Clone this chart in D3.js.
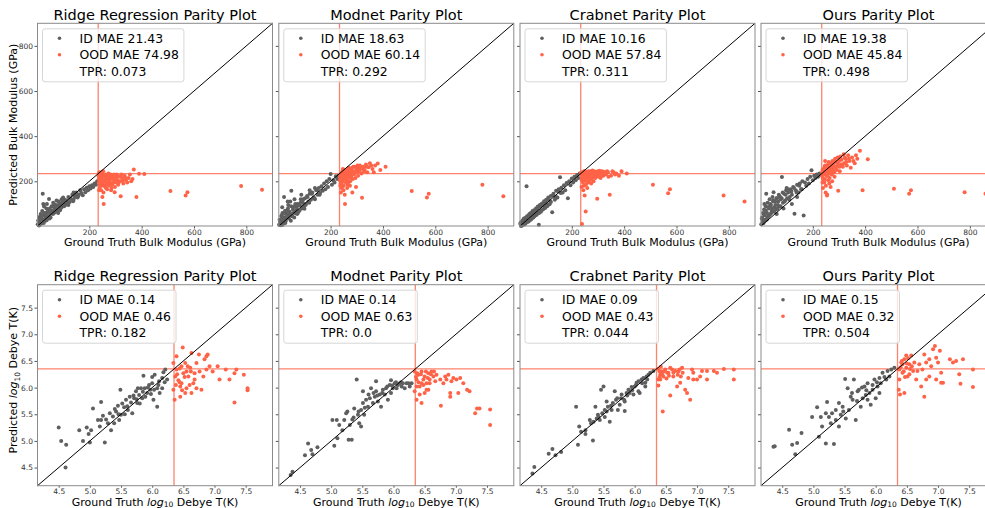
<!DOCTYPE html>
<html>
<head>
<meta charset="utf-8">
<script src="https://cdn.jsdelivr.net/npm/d3@7"></script>
<style>
  body { margin: 0; background: #fff; }
  text { font-family: "DejaVu Sans", sans-serif; }
</style>
</head>
<body>
<div id="chart"></div>
<script>
// ---- labels / metrics ----
var models = ["Ridge Regression", "Modnet", "Crabnet", "Ours"];
var bulkIdMae = ["21.43", "18.63", "10.16", "19.38"];
var bulkOodMae = ["74.98", "60.14", "57.84", "45.84"];
var bulkTpr = ["0.073", "0.292", "0.311", "0.498"];
var debyeIdMae = ["0.14", "0.14", "0.09", "0.15"];
var debyeOodMae = ["0.46", "0.63", "0.43", "0.32"];
var debyeTpr = ["0.182", "0.0", "0.044", "0.504"];

var bulkTicks = [200, 400, 600, 800];
var debyeTicks = [4.5, 5.0, 5.5, 6.0, 6.5, 7.0, 7.5];
var bulkThreshold = 234;
var debyeThreshold = 6.35;

// ---- bulk modulus: ground truth (shared test set) ----
var bulkIdTrue = [3,6,8,10,12,14,16,18,20,22,25,27,30,32,35,38,40,43,46,50,53,56,60,63,66,70,74,78,82,86,90,94,98,102,106,110,
  115,120,125,130,135,140,145,150,155,160,165,170,175,180,185,190,195,200,205,210,215,220,225,230,15,24,36,48,62,75,88,100,120,140,
  5,9,13,17,21,26,29,33,37,41,45,49,52,57,61,65,68,72,77,81,85,92,96,104,112,118,128,138,148,158];
var bulkOodTrue = [236,238,240,241,243,245,246,248,250,252,253,255,257,258,260,262,264,265,267,270,272,275,277,280,282,285,288,290,
  292,295,298,300,303,305,308,310,315,318,320,325,330,335,340,345,350,360,370,380,390,410,239,244,249,254,259,263,268,274,283,297,
  510,568,575,780,860,235,237,242,247,251,256,261,266,269,273,276,279,284,287,294,302,306,312,322,328,338,355,365,237,247];

// ---- bulk modulus: predictions per model ----
var ridgeBulkId = [10,28,4,42,18,55,12,36,68,145,30,88,48,25,60,100,42,75,122,55,62,90,70,58,98,80,68,92,110,84,100,120,88,105,118,96,
  112,130,108,122,140,118,130,150,128,142,160,148,138,165,152,172,160,178,168,182,175,190,185,200,40,100,80,35,105,115,72,128,95,150,
  25,8,35,22,50,15,60,40,28,65,48,80,40,70,55,85,62,95,75,60,98,82,108,90,115,100,125,112,140,135];
var modnetBulkId = [8,20,30,5,45,18,60,25,35,130,40,15,55,70,38,95,50,65,110,158,45,75,62,90,58,85,100,70,95,120,80,105,90,125,100,135,
  110,145,118,150,128,120,160,140,170,148,178,158,190,165,200,175,210,232,185,205,195,222,210,225,85,60,110,25,120,60,140,78,160,170,
  30,15,50,8,40,70,25,55,80,35,60,90,50,85,40,100,70,55,95,70,105,85,120,95,130,105,145,125,160,140];
var crabnetBulkId = [12,2,20,4,25,8,28,10,35,12,40,178,20,45,22,55,28,60,35,68,40,72,48,80,52,88,8,95,65,102,75,112,82,118,90,128,
  98,135,63,145,118,158,128,165,218,172,150,182,160,192,125,200,182,212,195,220,205,228,215,235,30,15,50,40,68,60,95,110,108,130,
  18,10,6,35,15,32,45,25,48,50,32,58,62,45,72,55,80,62,90,72,95,100,85,98,122,110,138,125,155,148];
var oursBulkId = [10,40,25,60,15,75,50,30,90,145,60,105,45,80,120,55,95,70,130,152,85,110,75,125,95,140,88,120,219,105,145,115,160,125,
  150,118,165,140,175,56,160,185,150,190,165,200,48,195,180,210,190,220,249,205,225,215,230,220,235,230,100,30,90,110,55,130,80,170,100,130,
  35,15,55,25,70,40,85,50,100,60,80,115,65,95,125,80,110,135,90,125,150,110,140,165,130,155,170,150,180,165];

var ridgeBulkOod = [210,240,185,225,200,160,235,215,130,195,245,100,220,180,205,230,170,210,190,225,200,180,215,195,230,170,210,190,
  220,200,175,215,195,230,205,185,220,200,134,215,190,225,205,195,215,200,252,130,233,232,170,205,190,150,200,185,165,205,160,152,
  157,137,152,179,163,225,195,215,180,230,205,175,220,200,235,190,210,225,185,230,205,220,195,230,205,215,230,210,160,240];
var modnetBulkOod = [220,190,235,170,210,245,200,225,180,240,215,100,230,195,250,210,235,185,245,220,255,200,240,225,260,210,245,230,
  265,215,250,240,270,225,255,245,260,235,127,265,250,275,240,262,280,255,270,279,250,264,150,175,160,140,205,170,195,180,150,175,
  157,128,145,185,134,205,230,190,240,215,250,225,200,260,235,215,255,235,265,240,260,250,270,255,245,265,270,240,180,255];
var crabnetBulkOod = [230,205,240,215,195,235,180,225,245,210,66,235,220,240,200,230,245,215,235,225,245,210,235,240,220,245,230,215,
  240,235,225,245,220,240,230,215,245,235,225,240,230,245,220,140,225,240,235,225,245,235,11,160,137,185,170,195,205,190,200,123,
  185,147,165,137,111,238,215,230,245,225,240,220,238,210,240,228,248,232,218,242,230,247,225,242,232,240,245,230,175,200];
var oursBulkOod = [240,215,255,200,230,265,210,245,180,260,225,140,250,275,235,260,215,280,245,265,230,290,255,270,240,300,260,285,
  250,305,270,290,245,310,275,295,265,320,280,300,270,315,290,260,305,280,300,335,160,298,170,195,150,137,205,190,175,200,220,158,
  167,145,160,152,145,225,250,235,270,245,225,285,250,235,280,260,245,285,265,280,265,300,275,305,285,300,290,315,195,290];

// ---- debye temperature: [ground truth, prediction] per model ----
var ridgeDebyeId = [[4.50,5.25],[4.54,5.00],[4.62,4.93],[4.61,4.50],[4.83,5.20],[4.89,5.00],[4.95,5.25],[4.98,5.13],[5.00,4.97],
  [5.05,5.61],[5.13,5.39],[5.16,5.27],[5.18,5.73],[5.24,4.97],[5.21,5.47],[5.29,5.33],[5.32,5.52],[5.34,5.20],[5.39,5.33],[5.45,5.66],
  [5.42,5.55],[5.47,5.39],[5.50,5.49],[5.49,5.96],[5.55,5.63],[5.58,5.77],[5.61,5.58],[5.66,5.72],[5.68,5.52],[5.71,5.80],[5.74,5.93],
  [5.76,5.71],[5.79,5.86],[5.82,5.99],[5.86,6.22],[5.84,5.80],[5.88,5.99],[5.92,5.90],[5.95,6.05],[5.97,5.96],[6.00,6.08],[6.02,5.77],
  [6.04,6.24],[6.08,5.99],[6.11,6.12],[6.12,5.90],[6.16,6.18],[6.18,6.29],[6.21,6.34],[6.08,5.64],[6.24,6.15],[5.18,5.39],[5.37,5.46],
  [5.64,5.83],[5.77,5.99],[5.89,5.83],[6.03,5.96],[6.16,5.99],[5.02,5.20],[5.40,5.60],[5.52,5.70],[5.60,5.65],[5.70,5.85],[5.75,5.78],
  [5.85,5.92],[5.93,6.00],[6.00,6.20],[5.26,5.40],[5.46,5.50],[5.56,5.50],[5.80,5.70],[5.98,5.88],[6.10,6.05],[6.20,6.10]];
var ridgeDebyeOod = [[6.49,6.75],[6.34,6.46],[6.39,6.34],[6.37,6.21],[6.34,5.96],[6.36,5.77],[6.45,5.83],[6.47,6.08],[6.50,6.27],
  [6.53,6.46],[6.55,5.99],[6.58,6.21],[6.61,6.37],[6.63,5.90],[6.66,6.08],[6.68,6.27],[6.71,6.46],[6.63,6.65],[6.76,6.30],[6.79,5.96],
  [6.75,6.62],[6.84,6.53],[6.87,6.34],[6.89,6.62],[6.92,6.40],[6.97,6.30],[7.05,6.40],[7.08,6.15],[7.18,6.34],[7.24,6.15],[7.32,6.27],
  [7.35,6.34],[7.32,5.72],[7.53,5.99],[7.53,5.95],[7.47,6.24],[6.45,6.02],[6.55,6.30],[6.42,6.14],[6.53,5.90],[6.71,5.99],[6.82,6.21],
  [6.47,6.40],[6.87,6.59],[6.39,6.59],[6.40,6.25],[6.44,6.10],[6.52,6.20],[6.48,5.95],[6.57,6.40],[6.60,6.05],[6.62,6.30],[6.38,6.05],
  [6.44,6.36],[6.68,6.15]];
var modnetDebyeId = [[4.35,4.36],[4.38,4.42],[4.58,4.73],[4.63,4.95],[4.68,4.83],[4.78,4.88],[4.70,4.75],[5.05,4.91],[5.02,5.39],
  [5.09,5.39],[5.10,5.05],[5.13,5.30],[5.18,5.20],[5.21,5.39],[5.24,5.52],[5.26,5.55],[5.28,5.02],[5.30,5.30],[5.33,5.02],[5.36,5.44],
  [5.37,5.61],[5.41,6.15],[5.43,5.49],[5.45,5.33],[5.48,5.58],[5.51,5.71],[5.51,5.93],[5.53,5.49],[5.56,5.77],[5.59,5.64],[5.60,5.87],
  [5.64,5.99],[5.67,5.71],[5.70,5.83],[5.72,5.93],[5.75,5.74],[5.78,5.87],[5.80,5.64],[5.83,5.96],[5.86,5.87],[5.88,5.99],[5.91,5.77],
  [5.94,6.05],[5.96,5.90],[5.99,5.99],[6.02,6.08],[6.05,5.99],[6.07,6.05],[6.10,6.08],[6.13,6.02],[6.15,6.08],[6.18,5.99],[6.21,6.08],
  [6.26,6.02],[6.29,6.08],[5.72,6.12],[5.96,6.14],[5.48,5.27],[5.62,5.80],[5.68,5.90],[5.74,5.85],[5.82,5.90],[5.90,6.02],[5.98,6.04],
  [6.04,6.10],[6.12,6.10],[6.24,6.08],[5.44,5.55],[5.54,5.62],[5.34,5.40]];
var modnetDebyeOod = [[6.34,6.30],[6.37,6.15],[6.40,6.24],[6.42,6.02],[6.45,6.30],[6.48,6.15],[6.50,6.21],[6.53,6.08],[6.56,6.27],
  [6.58,6.15],[6.61,6.30],[6.64,6.21],[6.34,5.93],[6.37,5.77],[6.42,5.87],[6.45,5.71],[6.50,5.90],[6.56,5.96],[6.58,6.08],[6.67,6.12],
  [6.69,6.24],[6.75,6.15],[6.80,6.08],[6.83,6.21],[6.85,6.15],[6.88,6.24],[6.93,6.12],[6.96,6.18],[7.01,6.15],[7.07,6.18],[6.37,6.02],
  [6.53,5.96],[6.65,6.30],[6.45,6.08],[6.76,5.66],[6.91,5.90],[6.91,5.83],[7.04,5.90],[7.12,6.08],[7.18,5.96],[7.22,5.93],[7.31,5.52],
  [7.34,5.61],[7.38,5.61],[7.55,5.59],[7.55,5.30],[6.36,6.20],[6.40,6.10],[6.44,6.25],[6.48,6.05],[6.52,6.30],[6.55,6.18],[6.60,6.25],
  [6.38,6.27]];
var crabnetDebyeId = [[4.39,4.51],[4.36,4.39],[4.62,4.76],[4.68,4.85],[4.73,4.73],[4.82,4.79],[5.09,4.93],[5.11,5.27],[5.14,5.17],
  [5.21,5.20],[5.21,5.13],[5.06,5.64],[5.33,5.01],[5.28,5.39],[5.30,5.33],[5.34,5.36],[5.37,5.64],[5.39,5.42],[5.41,5.49],[5.44,5.39],
  [5.46,5.96],[5.50,6.02],[5.48,5.52],[5.52,5.45],[5.55,5.55],[5.57,5.64],[5.60,5.36],[5.63,5.58],[5.65,5.71],[5.68,5.93],[5.70,5.77],
  [5.72,5.80],[5.76,5.68],[5.79,5.87],[5.83,5.77],[5.84,5.56],[5.87,5.90],[5.90,5.96],[5.92,5.90],[5.95,6.01],[5.98,5.87],[6.00,6.02],
  [6.03,6.09],[6.06,6.12],[6.08,5.90],[6.11,6.15],[6.14,6.18],[6.17,6.02],[6.19,6.21],[6.22,6.24],[6.25,6.28],[6.30,6.31],[5.84,5.74],
  [5.55,5.74],[5.73,5.58],[6.06,5.93],[6.17,6.09],[5.62,5.66],[5.78,5.80],[5.88,5.85],[5.96,5.95],[6.02,6.05],[6.12,6.08],[6.20,6.15],
  [5.42,5.45],[5.52,5.58]];
var crabnetDebyeOod = [[6.38,6.35],[6.41,6.24],[6.43,6.30],[6.38,6.15],[6.38,6.04],[6.46,6.21],[6.49,6.34],[6.51,6.17],[6.54,6.28],
  [6.57,5.85],[6.60,6.34],[6.62,6.21],[6.65,6.31],[6.68,6.02],[6.69,6.24],[6.72,6.34],[6.74,6.21],[6.77,6.28],[6.81,5.96],[6.84,5.90],
  [6.86,6.18],[6.89,5.77],[6.92,6.34],[6.94,6.28],[7.00,6.15],[7.05,6.21],[7.08,6.31],[7.16,6.15],[7.27,6.31],[7.32,6.28],[7.43,6.35],
  [7.59,6.34],[7.59,6.15],[6.45,5.55],[6.42,6.39],[6.57,6.37],[6.76,6.37],[6.41,6.15],[6.73,6.09],[7.16,6.31],[6.94,6.15],[6.40,6.30],
  [6.44,6.25],[6.47,6.30],[6.52,6.28],[6.55,6.22],[6.40,6.20],[6.62,6.28],[6.70,6.30]];
var oursDebyeId = [[4.38,4.90],[4.36,4.89],[4.61,5.21],[4.66,4.93],[4.74,4.96],[4.81,5.15],[4.71,4.75],[5.09,5.08],[5.06,5.63],
  [5.12,5.45],[5.14,5.27],[5.20,4.95],[5.33,4.94],[5.22,5.73],[5.28,5.33],[5.30,5.52],[5.36,5.39],[5.41,5.27],[5.44,5.49],[5.47,5.64],
  [5.51,6.16],[5.52,5.42],[5.55,5.99],[5.57,5.58],[5.63,5.77],[5.65,6.15],[5.68,5.39],[5.71,5.93],[5.73,5.96],[5.76,5.64],[5.79,5.80],
  [5.82,6.02],[5.84,5.86],[5.87,6.08],[5.90,5.90],[5.92,5.68],[5.95,5.96],[5.98,6.15],[6.00,5.80],[6.03,6.02],[6.06,6.18],[6.08,6.08],
  [6.11,6.28],[6.17,6.15],[6.19,6.31],[6.22,6.21],[6.25,6.34],[6.30,6.37],[5.20,5.52],[5.41,5.71],[5.60,5.83],[5.87,5.77],[5.36,5.58],
  [4.98,5.45],[6.06,5.90],[5.62,5.90],[5.70,5.75],[5.78,6.00],[5.85,5.95],[5.95,6.05],[6.02,6.10],[6.14,6.20],[5.48,5.55],[5.25,5.45]];
var oursDebyeOod = [[6.38,6.34],[6.41,6.47],[6.43,6.28],[6.46,6.53],[6.49,6.37],[6.51,6.21],[6.54,6.44],[6.57,6.60],[6.60,6.31],
  [6.62,6.47],[6.65,6.15],[6.38,6.15],[6.37,5.96],[6.39,5.87],[6.46,5.90],[6.43,6.44],[6.70,6.44],[6.73,6.02],[6.78,5.83],[6.81,6.15],
  [6.86,6.21],[6.89,6.40],[6.92,6.72],[6.95,6.78],[6.97,6.56],[7.00,6.47],[7.03,6.69],[7.05,6.28],[7.05,6.09],[7.08,6.09],[6.97,6.15],
  [7.19,6.53],[7.24,6.47],[7.29,6.50],[7.34,6.25],[7.36,6.07],[7.40,6.53],[7.56,6.34],[7.56,6.01],[6.78,6.62],[6.86,6.53],[6.67,6.31],
  [6.75,6.34],[6.49,6.60],[6.54,6.25],[6.81,6.47],[6.40,6.38],[6.45,6.30],[6.50,6.45],[6.55,6.35],[6.42,6.50],[6.58,6.40],[6.47,6.20],
  [6.52,6.55]];

// ---- layout ----
var width = 985, height = 508;
var colX = [37.5, 278.8, 520, 761];
var pw = 235;

var svg = d3.select("#chart").append("svg")
    .attr("width", width)
    .attr("height", height);

function zip(a, b){ return a.map(function(d, i){ return [d, b[i]]; }); }

var rows = [
  { top: 23.3, bottom: 226, domain: [2, 900], ticks: bulkTicks, fmt: d3.format("d"), thr: bulkThreshold,
    kind: "bulk", xlabelY: 245.7, ylabelShift: 0, tickSize: 2.5, tickPad: 1,
    id: [zip(bulkIdTrue, ridgeBulkId), zip(bulkIdTrue, modnetBulkId), zip(bulkIdTrue, crabnetBulkId), zip(bulkIdTrue, oursBulkId)],
    ood: [zip(bulkOodTrue, ridgeBulkOod), zip(bulkOodTrue, modnetBulkOod), zip(bulkOodTrue, crabnetBulkOod), zip(bulkOodTrue, oursBulkOod)],
    idMae: bulkIdMae, oodMae: bulkOodMae, tpr: bulkTpr },
  { top: 284.7, bottom: 485.7, domain: [4.16, 7.93], ticks: debyeTicks, fmt: d3.format(".1f"), thr: debyeThreshold,
    kind: "debye", xlabelY: 505.6, ylabelShift: -5, tickSize: 2, tickPad: 0.5,
    id: [ridgeDebyeId, modnetDebyeId, crabnetDebyeId, oursDebyeId],
    ood: [ridgeDebyeOod, modnetDebyeOod, crabnetDebyeOod, oursDebyeOod],
    idMae: debyeIdMae, oodMae: debyeOodMae, tpr: debyeTpr }
];

function writeLabel(sel, kind, predicted){
    if (kind === "bulk") {
        sel.text(predicted ? "Predicted Bulk Modulus (GPa)" : "Ground Truth Bulk Modulus (GPa)");
    } else {
        sel.append("tspan").text(predicted ? "Predicted " : "Ground Truth ");
        sel.append("tspan").attr("font-style", "italic").text("log");
        sel.append("tspan").attr("font-size", "7.5px").attr("dy", predicted ? 2.5 : 1.6).text("10");
        sel.append("tspan").attr("dy", predicted ? -2.5 : -1.6).text(" Debye T(K)");
    }
}

rows.forEach(function(row){
    var ph = row.bottom - row.top;
    for (var c = 0; c < 4; c++) {
        var left = colX[c];
        var x = d3.scaleLinear().domain(row.domain).range([left, left + pw]);
        var y = d3.scaleLinear().domain(row.domain).range([row.bottom, row.top]);
        var g = svg.append("g");

        // threshold lines
        g.append("line")
            .attr("x1", x(row.thr)).attr("x2", x(row.thr))
            .attr("y1", row.top).attr("y2", row.bottom)
            .attr("stroke", "#ff6347").attr("stroke-opacity", 0.8).attr("stroke-width", 1.3);
        g.append("line")
            .attr("x1", left).attr("x2", left + pw)
            .attr("y1", y(row.thr)).attr("y2", y(row.thr))
            .attr("stroke", "#ff6347").attr("stroke-opacity", 0.8).attr("stroke-width", 1.2);

        g.selectAll(".id").data(row.id[c]).enter().append("circle")
            .attr("cx", function(d){ return x(d[0]); })
            .attr("cy", function(d){ return y(d[1]); })
            .attr("r", 2)
            .attr("fill", "#5f5f5f");

        g.selectAll(".ood").data(row.ood[c]).enter().append("circle")
            .attr("cx", function(d){ return x(d[0]); })
            .attr("cy", function(d){ return y(d[1]); })
            .attr("r", 2)
            .attr("fill", "#ff6347");

        // parity line
        g.append("line")
            .attr("x1", x(row.domain[0])).attr("y1", y(row.domain[0]))
            .attr("x2", x(row.domain[1])).attr("y2", y(row.domain[1]))
            .attr("stroke", "black").attr("stroke-width", 1);

        // axes
        var xa = g.append("g")
            .attr("transform", "translate(0," + row.bottom + ")")
            .call(d3.axisBottom(x).tickValues(row.ticks).tickFormat(row.fmt).tickSize(row.tickSize).tickPadding(row.tickPad));
        var ya = g.append("g")
            .attr("transform", "translate(" + left + ",0)")
            .call(d3.axisLeft(y).tickValues(row.ticks).tickFormat(c === 0 ? row.fmt : function(){ return ""; })
                  .tickSize(3).tickPadding(1.5));
        [xa, ya].forEach(function(a){
            a.select(".domain").remove();
            a.selectAll(".tick line").attr("stroke", "#555");
            a.selectAll(".tick text").attr("font-size", "7.5px").attr("fill", "#333")
                .attr("font-family", "DejaVu Sans");
        });

        // frame
        g.append("rect")
            .attr("x", left).attr("y", row.top)
            .attr("width", pw).attr("height", ph)
            .attr("fill", "none").attr("stroke", "#8a8a8a").attr("stroke-width", 1);

        // title
        g.append("text")
            .attr("x", left + pw / 2).attr("y", row.top - 3.3)
            .attr("text-anchor", "middle")
            .attr("font-size", "14.5px")
            .text(models[c] + " Parity Plot");

        // x label
        var xl = g.append("text")
            .attr("x", left + pw / 2).attr("y", row.xlabelY)
            .attr("text-anchor", "middle")
            .attr("font-size", "11px");
        writeLabel(xl, row.kind, false);

        if (c === 0) {
            var yl = g.append("text")
                .attr("transform", "translate(17," + ((row.top + row.bottom) / 2 + row.ylabelShift) + ") rotate(-90)")
                .attr("text-anchor", "middle")
                .attr("font-size", "11px");
            writeLabel(yl, row.kind, true);
        }

        // legend
        var lx = left + 5, ly = row.top + 5.5;
        var lg = g.append("g");
        var box = lg.append("rect")
            .attr("x", lx).attr("y", ly).attr("height", 53)
            .attr("rx", 2.5)
            .attr("fill", "white").attr("fill-opacity", 0.8)
            .attr("stroke", "#d6d6d6").attr("stroke-width", 1);
        var items = [
            { t: "ID MAE " + row.idMae[c], col: "#5f5f5f" },
            { t: "OOD MAE " + row.oodMae[c], col: "#ff6347" },
            { t: "TPR: " + row.tpr[c], col: null }
        ];
        var maxW = 0;
        items.forEach(function(it, i){
            var cy = ly + 9.5 + i * 16.5;
            if (it.col) {
                lg.append("circle").attr("cx", lx + 17).attr("cy", cy).attr("r", 1.8).attr("fill", it.col);
            }
            var t = lg.append("text")
                .attr("x", lx + 37).attr("y", cy)
                .attr("dy", "0.36em")
                .attr("font-size", "12.4px")
                .text(it.t);
            maxW = Math.max(maxW, t.node().getComputedTextLength());
        });
        box.attr("width", 37 + maxW + 5);
    }
});
</script>
</body>
</html>
